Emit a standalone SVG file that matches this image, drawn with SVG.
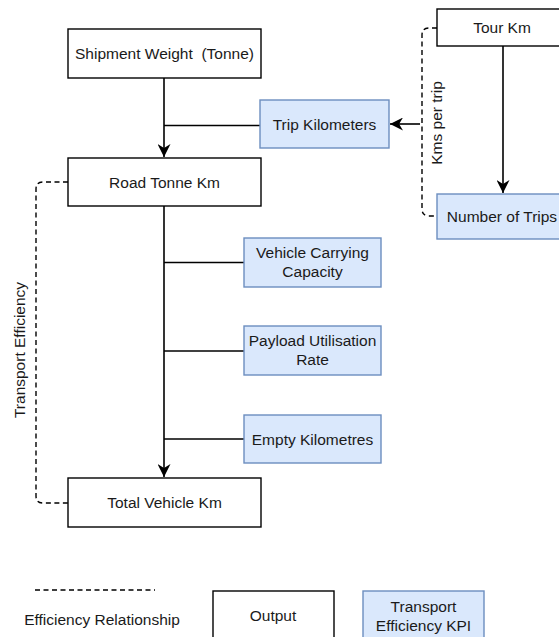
<svg xmlns="http://www.w3.org/2000/svg" width="559" height="637" viewBox="0 0 559 637">
<defs>
<style>
text{font-family:"Liberation Sans",Arial,sans-serif;font-size:15.5px;fill:#1a1a1a;text-anchor:middle}
.out{fill:#ffffff;stroke:#000000;stroke-width:1.4}
.kpi{fill:#dae8fc;stroke:#6c8ebf;stroke-width:1.4}
.ln{fill:none;stroke:#000000;stroke-width:1.6}
.dash{fill:none;stroke:#000000;stroke-width:1.4;stroke-dasharray:5 3.5}
</style>
<marker id="arr" viewBox="0 0 10 10" refX="10" refY="5" markerWidth="13" markerHeight="13" markerUnits="userSpaceOnUse" orient="auto">
<path d="M0,0 L10,5 L0,10 L3,5 Z" fill="#000000"/>
</marker>
</defs>
<rect width="559" height="637" fill="#ffffff"/>
<g id="connectors">
<path class="ln" d="M164,78 V157" marker-end="url(#arr)"/>
<path class="ln" d="M164,125.5 H260"/>
<path class="ln" d="M420,124 H390" marker-end="url(#arr)"/>
<path class="ln" d="M503,46 V193" marker-end="url(#arr)"/>
<path class="ln" d="M164,206 V477" marker-end="url(#arr)"/>
<path class="ln" d="M164,262.5 H244"/>
<path class="ln" d="M164,351 H244"/>
<path class="ln" d="M164,439 H244"/>
<path class="dash" d="M68,182 H43 Q36,182 36,189 V496 Q36,503 43,503 H68"/>
<path class="dash" d="M437,28 H429 Q422,28 422,35 V209 Q422,216 429,216 H437"/>
<text transform="translate(24.5,350) rotate(-90)">Transport Efficiency</text>
<text transform="translate(442,123) rotate(-90)">Kms per trip</text>
</g>
<g id="shipment-weight">
<rect class="out" x="68" y="29" width="193" height="49"/>
<text x="164.5" y="59" xml:space="preserve">Shipment Weight  (Tonne)</text>
</g>
<g id="road-tonne-km">
<rect class="out" x="68" y="158" width="193" height="48"/>
<text x="164.5" y="187.5">Road Tonne Km</text>
</g>
<g id="trip-kilometers">
<rect class="kpi" x="260" y="100" width="129" height="48"/>
<text x="324.5" y="129.5">Trip Kilometers</text>
</g>
<g id="tour-km">
<rect class="out" x="437" y="9" width="130" height="37"/>
<text x="502" y="33">Tour Km</text>
</g>
<g id="number-of-trips">
<rect class="kpi" x="437" y="194" width="130" height="45"/>
<text x="502" y="222">Number of Trips</text>
</g>
<g id="vehicle-carrying-capacity">
<rect class="kpi" x="244" y="238" width="137" height="49"/>
<text x="312.5" y="258">Vehicle Carrying</text>
<text x="312.5" y="277">Capacity</text>
</g>
<g id="payload-utilisation-rate">
<rect class="kpi" x="244" y="326" width="137" height="49"/>
<text x="312.5" y="346">Payload Utilisation</text>
<text x="312.5" y="365">Rate</text>
</g>
<g id="empty-kilometres">
<rect class="kpi" x="244" y="415" width="137" height="48"/>
<text x="312.5" y="444.5">Empty Kilometres</text>
</g>
<g id="total-vehicle-km">
<rect class="out" x="68" y="478" width="193" height="49"/>
<text x="164.5" y="508">Total Vehicle Km</text>
</g>
<g id="legend-efficiency">
<path class="dash" d="M35,590 H155"/>
<text x="102" y="625">Efficiency Relationship</text>
</g>
<g id="legend-output">
<rect class="out" x="213" y="591" width="121" height="60"/>
<text x="273" y="621">Output</text>
</g>
<g id="legend-kpi">
<rect class="kpi" x="363" y="591" width="121" height="60"/>
<text x="423.5" y="611.5">Transport</text>
<text x="423.5" y="631">Efficiency KPI</text>
</g>
</svg>
